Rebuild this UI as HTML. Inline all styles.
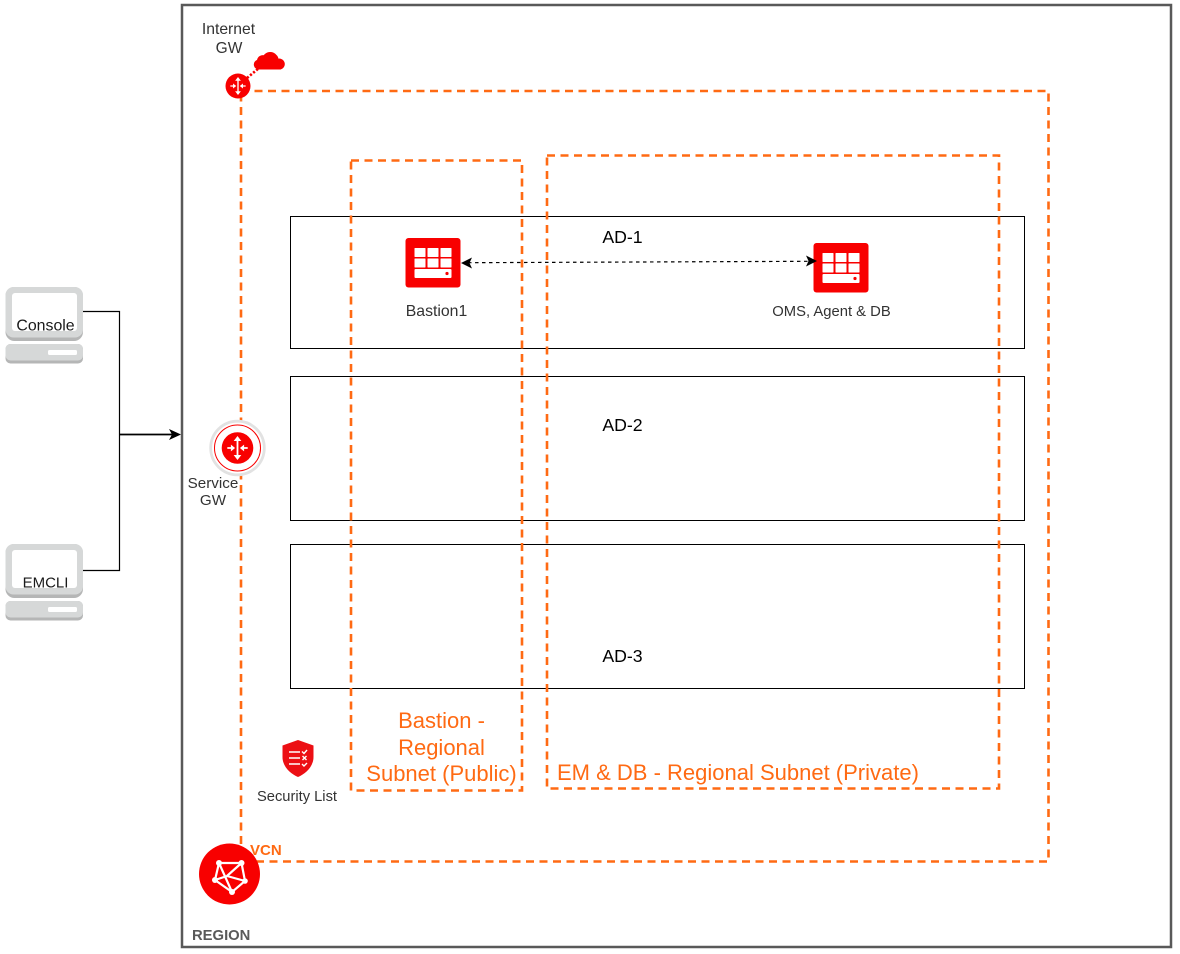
<!DOCTYPE html>
<html><head><meta charset="utf-8"><style>
html,body{margin:0;padding:0;background:#fff;width:1180px;height:954px;overflow:hidden}
svg{display:block}
text{font-family:"Liberation Sans",sans-serif}
</style></head><body>
<svg width="1180" height="954" viewBox="0 0 1180 954" xmlns="http://www.w3.org/2000/svg">
<defs>
<g id="pc">
<rect x="5.500" y="7" width="77.500" height="54" rx="9" fill="#b5b6b6"/>
<rect x="5.500" y="7" width="77.500" height="50.500" rx="8" fill="#d6d8d8"/>
<rect x="12" y="13" width="65" height="38" rx="3" fill="#fff"/>
<rect x="5.500" y="64" width="77.500" height="19.500" rx="5" fill="#b5b6b6"/>
<rect x="5.500" y="64" width="77.500" height="16.500" rx="5" fill="#d6d8d8"/>
<rect x="48" y="70" width="29" height="5" rx="1.500" fill="#fff"/>
</g>
<g id="srv">
<rect x="0" y="0" width="55" height="49.500" rx="3" fill="#f80000"/>
<g fill="#fff">
<rect x="9" y="10" width="11" height="9" rx=".5"/><rect x="22" y="10" width="11" height="9" rx=".5"/><rect x="35" y="10" width="11" height="9" rx=".5"/>
<rect x="9" y="20.500" width="11" height="9" rx=".5"/><rect x="22" y="20.500" width="11" height="9" rx=".5"/><rect x="35" y="20.500" width="11" height="9" rx=".5"/>
<rect x="9" y="31" width="37" height="9" rx="1"/>
</g>
<circle cx="41.500" cy="35.500" r="1.600" fill="#f80000"/>
</g>
<g id="rt" fill="#fff">
<path d="M0-7V7M-8.500 0H-3M8.500 0H3" fill="none" stroke="#fff" stroke-width="1.500"/>
<path d="M0-10L-3.200-5.800H3.200ZM0 10L-3.200 5.800H3.200ZM-2 0L-5.500-2.800V2.800ZM2 0L5.500-2.800V2.800Z"/>
</g>
</defs>

<rect x="182" y="5" width="989" height="942" fill="#fff" stroke="#595959" stroke-width="2.500"/>

<g fill="none" stroke="#000" stroke-width="1">
<rect x="290.500" y="216.500" width="734" height="132"/>
<rect x="290.500" y="376.500" width="734" height="144"/>
<rect x="290.500" y="544.500" width="734" height="144"/>
</g>

<g fill="none" stroke="#ff6a13" stroke-width="2.600" stroke-dasharray="8 5.500">
<path d="M241 91H1048.500V861.500H241V91"/>
<rect x="351" y="160.500" width="171" height="630"/>
<rect x="547" y="155.500" width="452" height="633"/>
</g>

<use href="#pc" y="280"/>
<use href="#pc" y="537"/>
<path d="M83 311.500H119.500V570.500H83" fill="none" stroke="#000" stroke-width="1.200"/>
<path d="M119 434.500H172" stroke="#000" stroke-width="1.700" fill="none"/>
<path d="M181 434.500L169 429L172 434.500L169 440Z" fill="#000"/>

<path d="M247 78L259 68" stroke="#f80000" stroke-width="2.600" stroke-dasharray="2.200 1.800"/>
<path d="M259 69a4.500 4.500 0 0 1-1.500-8.800a5.500 5.500 0 0 1 6.500-4.500a7.500 7.500 0 0 1 12-.5a6 6 0 0 1 2 4a4.800 4.800 0 0 1 2.500 9.800Z" fill="#f80000" stroke="#f80000" stroke-width="1"/>
<circle cx="238" cy="86" r="12.500" fill="#f80000"/>
<use href="#rt" transform="translate(238 86) scale(.9)"/>

<circle cx="237.500" cy="448" r="26.800" fill="#fff" stroke="#e2e2e2" stroke-width="2.800"/>
<circle cx="237.500" cy="448" r="23" fill="#fff" stroke="#f80000" stroke-width="1"/>
<circle cx="237.500" cy="448" r="15.800" fill="#f80000"/>
<use href="#rt" transform="translate(237.500 448) scale(1.200)"/>

<use href="#srv" x="405.500" y="238"/>
<use href="#srv" x="813.500" y="243"/>
<path d="M468 262.700L809 261.300" stroke="#000" stroke-width="1.200" stroke-dasharray="3.500 3.500"/>
<path d="M461 263L472 257.500L469.500 263L472 268.500Z" fill="#000"/>
<path d="M817 261L806 255.500L808.500 261L806 266.500Z" fill="#000"/>

<path d="M298 740L313.500 745.500V757C313.500 767 305 774 298 777C291 774 282.500 767 282.500 757V745.500Z" fill="#ec0f14"/>
<g stroke="#fff" stroke-width="1.400" fill="none">
<path d="M289 752H300M289 758H300M289 764H300"/>
<path d="M302 751.500L304 753.500L307 750M302.500 756L306.500 760M306.500 756L302.500 760M302 764L304 766L307 763"/>
</g>

<circle cx="229.500" cy="874" r="30.500" fill="#f80000"/>
<g stroke="#fff" stroke-width="2.200" fill="none">
<path d="M219 863L241.500 863L245 881L232 892L215 880ZM219 863L232 892M215 880L227 876L241.500 863M227 876L245 881"/>
</g>
<g fill="#fff">
<circle cx="219" cy="863" r="3"/><circle cx="241.500" cy="863" r="3"/><circle cx="245" cy="881" r="2.800"/><circle cx="232" cy="892" r="3"/><circle cx="215" cy="880" r="3"/>
</g>

<g fill="#333" text-anchor="middle">
<text x="228.500" y="34" font-size="15.700">Internet</text>
<text x="229" y="53" font-size="15.500">GW</text>
<text x="213" y="488" font-size="15.200">Service</text>
<text x="213" y="505" font-size="15.200">GW</text>
<text x="436.500" y="316" font-size="15.800">Bastion1</text>
<text x="831.500" y="316" font-size="14.800">OMS, Agent &amp; DB</text>
<text x="297" y="801" font-size="14.700">Security List</text>
<text x="45.500" y="330.500" fill="#1a1a1a" font-size="15.900">Console</text>
<text x="45.500" y="587.500" fill="#1a1a1a" font-size="15">EMCLI</text>
</g>
<g font-size="17.700" fill="#000" text-anchor="middle">
<text x="622.500" y="243">AD-1</text>
<text x="622.500" y="431">AD-2</text>
<text x="622.500" y="662">AD-3</text>
</g>
<g font-size="22" fill="#ff6a13">
<text x="441.500" y="728" text-anchor="middle">Bastion -</text>
<text x="441.500" y="755" text-anchor="middle">Regional</text>
<text x="441.500" y="781" text-anchor="middle">Subnet (Public)</text>
<text x="557" y="780">EM &amp; DB - Regional Subnet (Private)</text>
</g>
<text x="250" y="855" font-size="15" font-weight="bold" fill="#ff6a13">VCN</text>
<text x="192" y="940" font-size="14.800" font-weight="bold" fill="#595959">REGION</text>
</svg>
</body></html>
